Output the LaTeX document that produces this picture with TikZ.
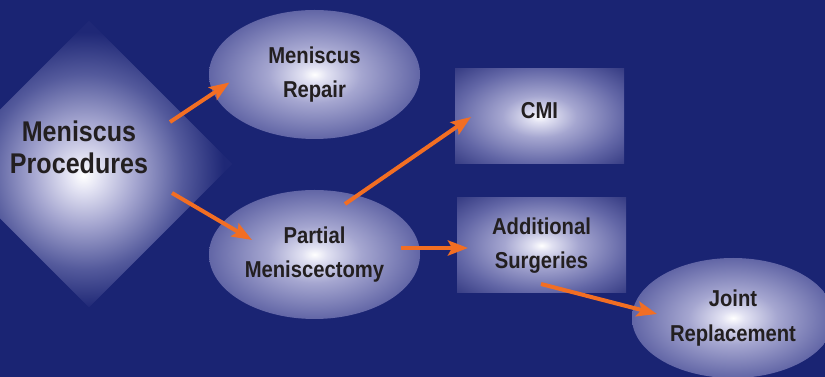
\documentclass[tikz,border=0pt]{standalone}
\usepackage{fontspec}
\setmainfont{Liberation Sans}[FakeStretch=0.88]
\usetikzlibrary{arrows.meta, shapes.geometric}

\definecolor{navybg}{RGB}{26,36,115}
\definecolor{arrorange}{RGB}{242,110,35}
\definecolor{txtdark}{RGB}{35,31,32}
\definecolor{glowA}{RGB}{225,225,242}
\definecolor{glowB}{RGB}{165,166,208}
\definecolor{glowC}{RGB}{98,102,166}
\definecolor{glowD}{RGB}{52,58,130}
\definecolor{dmdC}{RGB}{84,90,156}
\definecolor{dmdD}{RGB}{31,40,118}

\pgfdeclareradialshading{boxglow}{\pgfpoint{0bp}{0bp}}{color(0bp)=(white); color(3bp)=(glowA); color(11bp)=(glowB); color(25bp)=(glowC); color(36bp)=(glowD); color(50bp)=(glowD)}
\pgfdeclareradialshading{dmdglow}{\pgfpoint{-1bp}{-2bp}}{color(0bp)=(white); color(3bp)=(glowA); color(9bp)=(glowB); color(17bp)=(dmdC); color(24bp)=(dmdD); color(50bp)=(dmdD)}

\begin{document}
\begin{tikzpicture}[
  x=1pt, y=1pt,
  glowbox/.style={shade, shading=boxglow, inner sep=0pt, text=txtdark,
                  font=\fontsize{23}{34.5}\selectfont\bfseries, align=center},
  oval/.style={glowbox, ellipse, minimum width=211pt, minimum height=129pt},
  card/.style={glowbox, rectangle, minimum width=169pt, minimum height=95pt},
  bigtxt/.style={text=txtdark, font=\fontsize{28.5}{32}\selectfont\bfseries,
                 align=center, inner sep=0pt},
  arrow/.style={-{Stealth[length=20pt, width=15pt, inset=4pt]},
                line width=4pt, draw=arrorange}
]
\useasboundingbox (0,0) rectangle (825,377);
\clip (0,0) rectangle (825,377);
\fill[navybg] (0,0) rectangle (825,377);

\node[glowbox, diamond, aspect=1, minimum size=287pt, shading=dmdglow]
      (proc) at (89,213) {};
\node[bigtxt] (procText) at (79,230) {Meniscus\\Procedures};

\node[oval]  (repair)  at (314.5,302.5) {Meniscus\\Repair};
\node[oval]  (partial) at (314.5,122.5) {Partial\\Meniscectomy};
\node[card, text depth=13pt] (cmi) at (539.5,260.5) {CMI};
\node[card]  (addl)    at (541.5,131.5) {Additional\\Surgeries};
\node[oval, minimum width=202pt, minimum height=120pt]
      (joint) at (733,59) {Joint\\Replacement};

\draw[arrow] ([shift={(81,42)}]proc.center)
          -- ([shift={(-85,-8)}]repair.center);
\draw[arrow] ([shift={(83,-29)}]proc.center)
          -- ([shift={(-62.5,14.5)}]partial.center);
\draw[arrow] ([shift={(30.5,50.5)}]partial.center)
          -- ([shift={(-68.5,-0.5)}]cmi.center);
\draw[arrow] ([shift={(86.5,6.5)}]partial.center)
          -- ([shift={(-73.5,-2.5)}]addl.center);
\draw[arrow] ([shift={(-0.5,-38.5)}]addl.center)
          -- ([shift={(-76,4)}]joint.center);
\end{tikzpicture}
\end{document}
